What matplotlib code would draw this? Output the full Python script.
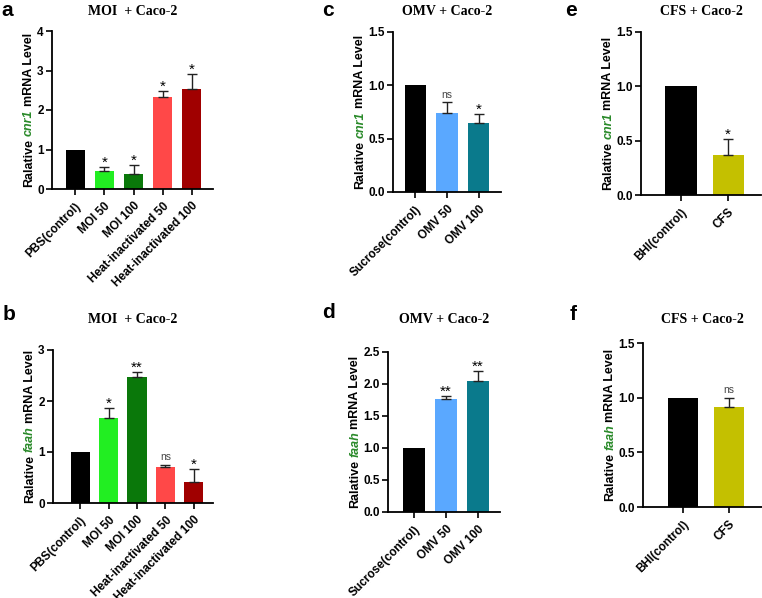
import matplotlib
matplotlib.use("Agg")
import matplotlib.pyplot as plt

plt.rcParams['font.family'] = ['Liberation Sans', 'DejaVu Sans']

# ---- data ----
moi_labels = ["PBS(control)", "MOI 50", "MOI 100", "Heat-inactivated 50", "Heat-inactivated 100"]
moi_colors = ["#000000", "#22ee22", "#0a780a", "#ff4848", "#a00000"]
moi_cnr1 = [1.0, 0.45, 0.37, 2.34, 2.53]
moi_cnr1_err = [0.0, 0.10, 0.23, 0.13, 0.38]
moi_cnr1_sig = ["", "*", "*", "*", "*"]
moi_faah = [1.0, 1.66, 2.48, 0.71, 0.42]
moi_faah_err = [0.0, 0.21, 0.09, 0.04, 0.25]
moi_faah_sig = ["", "*", "**", "ns", "*"]

omv_labels = ["Sucrose(control)", "OMV 50", "OMV 100"]
omv_colors = ["#000000", "#5aa8ff", "#0a7a8c"]
omv_cnr1 = [1.0, 0.74, 0.645]
omv_cnr1_err = [0.0, 0.10, 0.09]
omv_cnr1_sig = ["", "ns", "*"]
omv_faah = [1.0, 1.77, 2.045]
omv_faah_err = [0.0, 0.04, 0.165]
omv_faah_sig = ["", "**", "**"]

cfs_labels = ["BHI(control)", "CFS"]
cfs_colors = ["#000000", "#c4c000"]
cfs_cnr1 = [1.0, 0.367]
cfs_cnr1_err = [0.0, 0.147]
cfs_cnr1_sig = ["", "*"]
cfs_faah = [1.0, 0.915]
cfs_faah_err = [0.0, 0.085]
cfs_faah_sig = ["", "ns"]

W, H = 762, 598
fig = plt.figure(figsize=(W / 100, H / 100), dpi=100)


def px_axes(l, r, b, t):
    return fig.add_axes([l / W, 1 - b / H, (r - l) / W, (b - t) / H])


panels = [
    # letter, rect(px), labels, colors, vals, errs, sig, ylim, yticks, xlim, width, title, gene
    ("a", (52, 213, 189, 31), moi_labels, moi_colors, moi_cnr1, moi_cnr1_err, moi_cnr1_sig,
     4, [0, 1, 2, 3, 4], (-0.79, 4.72), 0.65, "MOI  + Caco-2", "cnr1"),
    ("b", (53, 213, 503, 350), moi_labels, moi_colors, moi_faah, moi_faah_err, moi_faah_sig,
     3, [0, 1, 2, 3], (-0.95, 4.67), 0.67, "MOI  + Caco-2", "faah"),
    ("c", (393, 501, 192, 32), omv_labels, omv_colors, omv_cnr1, omv_cnr1_err, omv_cnr1_sig,
     1.5, [0.0, 0.5, 1.0, 1.5], (-0.69, 2.69), 0.66, "OMV + Caco-2", "cnr1"),
    ("d", (388, 500, 512, 352), omv_labels, omv_colors, omv_faah, omv_faah_err, omv_faah_sig,
     2.5, [0.0, 0.5, 1.0, 1.5, 2.0, 2.5], (-0.81, 2.69), 0.68, "OMV + Caco-2", "faah"),
    ("e", (641, 761, 195, 32), cfs_labels, cfs_colors, cfs_cnr1, cfs_cnr1_err, cfs_cnr1_sig,
     1.5, [0.0, 0.5, 1.0, 1.5], (-0.85, 1.70), 0.66, "CFS + Caco-2", "cnr1"),
    ("f", (643, 762, 507, 343), cfs_labels, cfs_colors, cfs_faah, cfs_faah_err, cfs_faah_sig,
     1.5, [0.0, 0.5, 1.0, 1.5], (-0.87, 1.72), 0.67, "CFS + Caco-2", "faah"),
]

# panel letter baselines and title baselines (pixels from top)
letter_pos = {"a": (1, 16), "b": (3, 320), "c": (322, 16), "d": (322, 318), "e": (565, 16), "f": (570, 320)}
title_y = {"a": 15, "b": 323, "c": 15, "d": 323, "e": 15, "f": 323}

ylabel_jobs = []
for (letter, rect, labels, colors, vals, errs, sig, ytop, yticks, xlim, bw, title, gene) in panels:
    ax = px_axes(*rect)
    x = list(range(len(vals)))
    ax.bar(x, vals, width=bw, color=colors, zorder=2)
    for xi, v, e, s in zip(x, vals, errs, sig):
        if e > 0:
            ax.errorbar(xi, v, yerr=[[0], [e]], fmt='none', ecolor='#222222',
                        elinewidth=1.0, capsize=3.8, capthick=1.0, zorder=3)
        if s:
            top = v + e
            if s == "ns":
                ax.annotate(s, (xi, top), xytext=(0, 2), textcoords='offset points',
                            ha='center', va='bottom', fontsize=7.5, color='#444444')
            else:
                ax.annotate(s, (xi, top), xytext=(0, -2), textcoords='offset points',
                            ha='center', va='bottom', fontsize=11, color='black')
    ax.set_ylim(0, ytop)
    ax.set_xlim(*xlim)
    ax.set_yticks(yticks)
    if ytop >= 3:
        ax.set_yticklabels([str(int(t)) for t in yticks])
    else:
        ax.set_yticklabels(["%.1f" % t for t in yticks])
    ax.set_xticks(x)
    ax.set_xticklabels(labels, rotation=45, ha='right', rotation_mode='anchor')
    for sp in ["top", "right"]:
        ax.spines[sp].set_visible(False)
    for sp in ["left", "bottom"]:
        ax.spines[sp].set_linewidth(1.3)
    ax.tick_params(axis='both', length=4, width=1.2, labelsize=8.5, pad=2)
    ax.tick_params(axis='x', pad=4)
    for lab in ax.get_xticklabels() + ax.get_yticklabels():
        lab.set_fontweight('bold')
    tx = (rect[0] + rect[1]) / 2
    fig.text(tx / W, 1 - title_y[letter] / H, title, family='Liberation Serif',
             fontweight='bold', fontsize=10, ha='center', va='baseline')
    lx, ly = letter_pos[letter]
    fig.text(lx / W, 1 - ly / H, letter, fontsize=15, fontweight='bold', va='baseline', ha='left')
    ylabel_jobs.append((ax, gene))

# y labels built from three pieces (gene name in green italics)
texts = []
for ax, gene in ylabel_jobs:
    parts = [("Ralative", dict(color='black', fontweight='bold')),
             (gene, dict(color='#2a8a2a', fontweight='bold', fontstyle='italic')),
             ("mRNA Level", dict(color='black', fontweight='bold'))]
    ts = [fig.text(0, 0, s, rotation=90, rotation_mode='anchor', ha='center', va='baseline',
                   fontsize=9, **kw) for s, kw in parts]
    texts.append((ax, ts))

fig.canvas.draw()
renderer = fig.canvas.get_renderer()
gap = 3.0
for ax, ts in texts:
    hs = [t.get_window_extent(renderer).height for t in ts]
    total = sum(hs) + gap * (len(hs) - 1)
    bb = ax.get_window_extent(renderer)
    tick_x0 = min(l.get_window_extent(renderer).x0 for l in ax.get_yticklabels())
    cy = (bb.y0 + bb.y1) / 2
    xb = tick_x0 - 5
    start = cy - total / 2
    for t, h in zip(ts, hs):
        t.set_position((xb / W, (start + h / 2) / H))
        start += h + gap

fig.savefig("out.png", dpi=100)
